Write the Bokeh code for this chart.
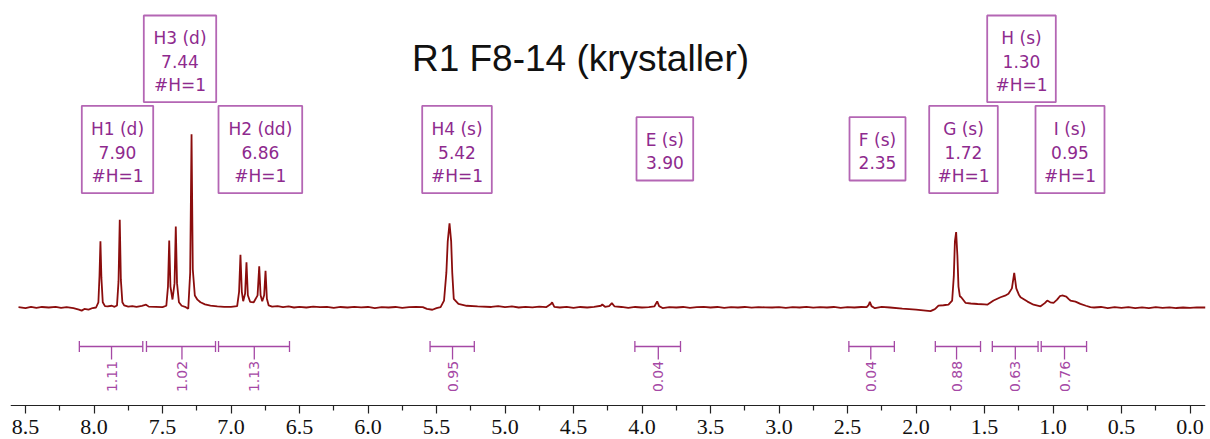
import math
from bokeh.plotting import figure
from bokeh.models import Range1d, FixedTicker, NumeralTickFormatter
from bokeh.core.properties import value
from bokeh.embed import file_html
from bokeh.resources import INLINE

# ---------------- data ----------------
ppm = [8.551, 8.50, 8.46, 8.42, 8.38, 8.33, 8.28, 8.24, 8.20, 8.15, 8.11, 8.09, 8.07, 8.04, 8.01,
       7.985, 7.968, 7.960, 7.953, 7.946, 7.936, 7.92, 7.90, 7.87, 7.85,
       7.832, 7.821, 7.812, 7.804, 7.793, 7.78, 7.75, 7.72, 7.69, 7.65, 7.62, 7.60, 7.55, 7.50,
       7.472, 7.460, 7.451, 7.442, 7.427, 7.412, 7.403, 7.394, 7.38, 7.36, 7.33,
       7.312, 7.298, 7.288, 7.279, 7.264, 7.245, 7.223, 7.19, 7.15, 7.10, 7.05, 7.00,
       6.955, 6.941, 6.931, 6.921, 6.911, 6.897, 6.887, 6.877, 6.860, 6.834,
       6.806, 6.794, 6.784, 6.772, 6.758, 6.748, 6.738, 6.725,
       6.70, 6.66, 6.62, 6.58, 6.54, 6.50, 6.45, 6.40, 6.35, 6.30, 6.25, 6.20, 6.15, 6.10,
       6.05, 6.00, 5.95, 5.90, 5.85, 5.80, 5.75, 5.70, 5.65, 5.60, 5.57, 5.53, 5.50, 5.47,
       5.445, 5.428, 5.418, 5.405, 5.393, 5.385, 5.374, 5.34, 5.28, 5.20, 5.10, 5.05,
       5.00, 4.95, 4.90, 4.85, 4.80, 4.75, 4.70, 4.665, 4.656, 4.64, 4.60, 4.55, 4.50,
       4.45, 4.40, 4.35, 4.30, 4.29, 4.27, 4.24, 4.22, 4.20, 4.15, 4.10, 4.05, 4.00, 3.95,
       3.91, 3.889, 3.875, 3.85, 3.80, 3.75, 3.70, 3.65, 3.60, 3.55, 3.50, 3.45, 3.40,
       3.35, 3.30, 3.25, 3.20, 3.15, 3.10, 3.05, 3.00, 2.95, 2.90, 2.85, 2.80, 2.75, 2.70,
       2.65, 2.60, 2.55, 2.50, 2.45, 2.40, 2.36, 2.345, 2.337, 2.325, 2.30, 2.25, 2.19,
       2.10, 2.00, 1.93, 1.894, 1.870, 1.858, 1.836, 1.80, 1.763, 1.736,
       1.724, 1.716, 1.707, 1.698, 1.690, 1.680, 1.670, 1.639, 1.60, 1.55, 1.50, 1.480,
       1.434, 1.383, 1.350, 1.325, 1.300, 1.283, 1.268, 1.250, 1.237, 1.186, 1.142, 1.091,
       1.060, 1.042, 1.020, 0.996, 0.970, 0.950, 0.933, 0.903, 0.885, 0.873, 0.836, 0.800,
       0.760, 0.727, 0.70, 0.65, 0.60, 0.55, 0.50, 0.45, 0.40, 0.35, 0.30, 0.25, 0.20,
       0.15, 0.10, 0.05, 0.00, -0.05, -0.113]
intensity = [0.002, -0.003, 0.004, -0.002, 0.003, 0.000, 0.004, -0.002, 0.002, -0.004, -0.012, -0.018, -0.008, -0.012, -0.003,
             0.000, 0.030, 0.180, 0.381, 0.170, 0.030, 0.008, 0.006, 0.010, 0.004,
             0.012, 0.150, 0.504, 0.160, 0.030, 0.012, 0.005, 0.008, 0.004, 0.010, 0.016, 0.005, 0.004, 0.002,
             0.010, 0.120, 0.385, 0.120, 0.046, 0.140, 0.466, 0.140, 0.030, 0.010, 0.002,
             -0.007, 0.200, 0.995, 0.220, 0.069, 0.045, 0.030, 0.018, 0.011, 0.006, 0.004, 0.004,
             0.008, 0.090, 0.303, 0.090, 0.036, 0.080, 0.260, 0.070, 0.032, 0.030,
             0.070, 0.237, 0.070, 0.036, 0.070, 0.211, 0.050, 0.012,
             0.005, 0.008, 0.002, 0.006, 0.000, 0.004, 0.000, 0.005, 0.002, 0.004, -0.002, 0.003, 0.000, 0.004,
             0.001, 0.003, -0.003, 0.002, 0.000, 0.003, -0.002, 0.002, 0.003, 0.002, -0.008, -0.013, -0.004, 0.002,
             0.040, 0.200, 0.380, 0.484, 0.380, 0.200, 0.050, 0.021, 0.010, 0.006, 0.003, 0.008,
             0.002, 0.006, 0.000, 0.004, 0.001, 0.005, 0.002, 0.020, 0.030, 0.004, 0.000, 0.004, -0.002,
             0.003, 0.000, 0.004, 0.010, 0.017, 0.004, 0.008, 0.025, 0.006, 0.003, -0.002, 0.003, 0.000, 0.002,
             0.006, 0.035, 0.008, -0.003, 0.002, 0.000, 0.003, -0.002, 0.002, 0.004, 0.000, 0.003, -0.002,
             0.002, 0.000, 0.003, -0.001, 0.002, 0.001, 0.000, 0.002, -0.002, 0.002, 0.000, 0.004, -0.001, 0.002,
             0.000, 0.003, -0.002, 0.002, 0.000, 0.003, 0.002, 0.015, 0.033, 0.008, -0.004, 0.004, 0.000,
             -0.006, -0.012, -0.018, -0.021, -0.012, -0.007, 0.011, 0.013, 0.016, 0.040,
             0.180, 0.380, 0.433, 0.300, 0.120, 0.065, 0.059, 0.027, 0.023, 0.020, 0.018, 0.016,
             0.040, 0.059, 0.068, 0.079, 0.110, 0.199, 0.110, 0.075, 0.059, 0.034, 0.016, 0.007,
             0.025, 0.040, 0.030, 0.027, 0.045, 0.065, 0.069, 0.063, 0.048, 0.040, 0.034, 0.021,
             0.010, 0.002, 0.000, 0.003, -0.003, 0.002, -0.002, 0.002, -0.004, 0.001, -0.003, 0.002, -0.002,
             0.001, -0.003, 0.000, -0.002, 0.001, 0.000]

peak_names = ["H1 (d)", "H3 (d)", "H2 (dd)", "H4 (s)", "E (s)", "F (s)", "G (s)", "H (s)", "I (s)"]
peak_shifts = ["7.90", "7.44", "6.86", "5.42", "3.90", "2.35", "1.72", "1.30", "0.95"]
peak_counts = ["#H=1", "#H=1", "#H=1", "#H=1", "", "", "#H=1", "#H=1", "#H=1"]

integral_values = ["1.11", "1.02", "1.13", "0.95", "0.04", "0.04", "0.88", "0.63", "0.76"]
integral_from = [8.107, 7.617, 7.091, 5.547, 4.052, 2.490, 1.859, 1.443, 1.086]
integral_to = [7.644, 7.113, 6.573, 5.224, 3.719, 2.158, 1.529, 1.109, 0.755]
integral_mid = [7.872, 7.358, 6.830, 5.383, 3.881, 2.330, 1.704, 1.275, 0.916]

tick_values = [8.5, 8.0, 7.5, 7.0, 6.5, 6.0, 5.5, 5.0, 4.5, 4.0, 3.5, 3.0, 2.5, 2.0, 1.5, 1.0, 0.5, 0.0]
tick_labels = ["8.5", "8.0", "7.5", "7.0", "6.5", "6.0", "5.5", "5.0", "4.5", "4.0", "3.5", "3.0",
               "2.5", "2.0", "1.5", "1.0", "0.5", "0.0"]
minor_tick_values = [8.25, 7.75, 7.25, 6.75, 6.25, 5.75, 5.25, 4.75, 4.25, 3.75, 3.25, 2.75,
                     2.25, 1.75, 1.25, 0.75, 0.25]

title_text = "R1 F8-14 (krystaller)"

# ---------------- layout (screen pixels of the picture) ----------------
def sx(px):
    return 8.5 - (px - 25.0) / 137.0

def sy(py):
    return (307.0 - py) / 174.0

box_left_px = [81.3, 143.3, 218.0, 421.7, 636.0, 849.0, 928.7, 986.7, 1035.0]
box_right_px = [152.7, 215.7, 301.7, 491.3, 692.7, 905.0, 997.3, 1055.3, 1104.0]
box_top_px = [105.3, 15.0, 105.3, 105.3, 116.7, 116.7, 105.3, 15.0, 105.3]
box_bottom_px = [192.7, 101.7, 192.7, 192.7, 180.0, 180.0, 192.7, 101.7, 192.7]

SPEC = "#8b0d0d"
LABEL_TEXT = "#8e2a8e"
LABEL_BORDER = "#b466b4"
INTEG = "#a548a5"

p = figure(width=1210, height=439,
           x_range=Range1d(sx(10), sx(1205)), y_range=Range1d(sy(439), sy(0)),
           output_backend="svg", toolbar_location=None, y_axis_location=None,
           min_border_left=10, min_border_right=5, min_border_top=0, min_border_bottom=0)
p.outline_line_color = None
p.xgrid.visible = False
p.ygrid.visible = False
p.background_fill_color = "white"
p.border_fill_color = "white"

# spectrum
p.line(ppm, intensity, line_color=SPEC, line_width=1.8)

# title
p.text(x=[sx(580)], y=[sy(58)], text=[title_text], text_font=value("Liberation Sans"),
       text_font_size="37px", text_color="#111111", text_align="center",
       text_baseline="alphabetic")

# peak label boxes
p.quad(left=[sx(v) for v in box_left_px], right=[sx(v) for v in box_right_px],
       top=[sy(v) for v in box_top_px], bottom=[sy(v) for v in box_bottom_px],
       fill_color=None, line_color=LABEL_BORDER, line_width=1.8)

tx, ty, tt = [], [], []
for i in range(len(peak_names)):
    lines = [peak_names[i], peak_shifts[i]] + ([peak_counts[i]] if peak_counts[i] else [])
    cx = (sx(box_left_px[i]) + sx(box_right_px[i])) / 2
    cy = (box_top_px[i] + box_bottom_px[i]) / 2 + 2.5
    n = len(lines)
    spacing = 23.5 if n == 3 else 22.5
    for k, t in enumerate(lines):
        tx.append(cx)
        ty.append(sy(cy + (k - (n - 1) / 2) * spacing))
        tt.append(t)
p.text(x=tx, y=ty, text=tt, text_font=value("DejaVu Sans"), text_font_size="17px",
       text_color=LABEL_TEXT, text_align="center", text_baseline="middle")

# integrals
yl = sy(346)
p.segment(x0=integral_from, y0=[yl] * 9, x1=integral_to, y1=[yl] * 9,
          line_color=INTEG, line_width=1.3)
p.segment(x0=integral_from + integral_to, y0=[sy(340.5)] * 18,
          x1=integral_from + integral_to, y1=[sy(351.5)] * 18,
          line_color=INTEG, line_width=1.3)
p.segment(x0=integral_mid, y0=[yl] * 9, x1=integral_mid, y1=[sy(359)] * 9,
          line_color=INTEG, line_width=1.3)
p.text(x=integral_mid, y=[sy(376)] * 9, text=integral_values, angle=math.pi / 2,
       text_font=value("DejaVu Sans"), text_font_size="14px", text_color=INTEG,
       text_align="center", text_baseline="middle")

# x axis
ax = p.xaxis[0]
ax.fixed_location = sy(405)
ax.ticker = FixedTicker(ticks=tick_values, minor_ticks=minor_tick_values)
ax.formatter = NumeralTickFormatter(format="0.0")
ax.major_label_overrides = {v: s for v, s in zip(tick_values, tick_labels)}
ax.axis_line_color = "#222222"
ax.axis_line_width = 1.2
ax.major_tick_line_color = "#222222"
ax.minor_tick_line_color = "#222222"
ax.major_tick_line_width = 1.2
ax.minor_tick_line_width = 1.2
ax.major_tick_in = 0
ax.major_tick_out = 8
ax.minor_tick_in = 0
ax.minor_tick_out = 5
ax.major_label_standoff = 6
ax.major_label_text_font = "Liberation Serif"
ax.major_label_text_font_size = "22px"
ax.major_label_text_color = "#111111"

open("out.html", "w").write(file_html(p, INLINE))
